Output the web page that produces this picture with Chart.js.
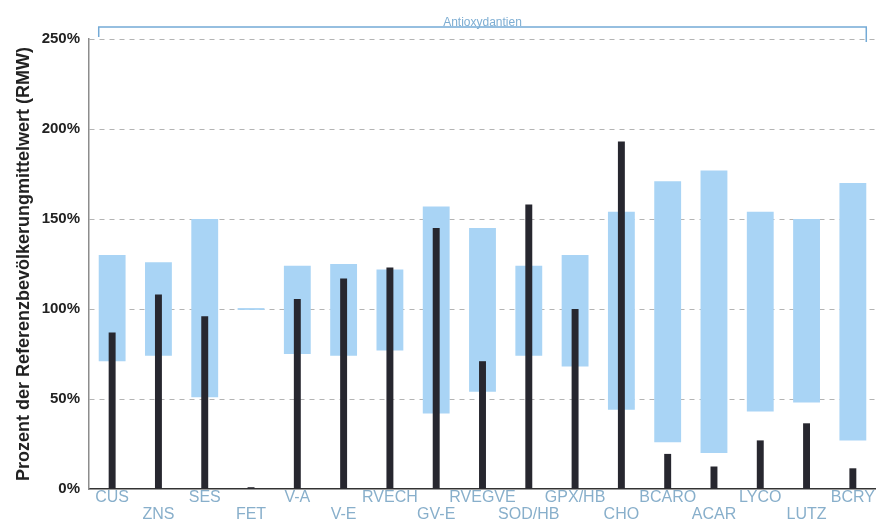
<!DOCTYPE html>
<html>
<head>
<meta charset="utf-8">
<script src="https://cdn.jsdelivr.net/npm/chart.js@4"></script>
<style>
  html, body { margin: 0; padding: 0; background: #fff; }
  #wrap { width: 876px; height: 527px; }
</style>
</head>
<body>
<div id="wrap"><canvas id="chart"></canvas></div>
<script>
// categories and values (percent of reference mean)
const categories = ['CUS', 'ZNS', 'SES', 'FET', 'V-A', 'V-E', 'RVECH', 'GV-E', 'RVEGVE', 'SOD/HB', 'GPX/HB', 'CHO', 'BCARO', 'ACAR', 'LYCO', 'LUTZ', 'BCRY'];
const refLow = [71, 74, 51, 99.5, 75, 74, 77, 42, 54, 74, 68, 44, 26, 20, 43, 48, 27];
const refHigh = [130, 126, 150, 100.5, 124, 125, 122, 157, 145, 124, 130, 154, 171, 177, 154, 150, 170];
const measured = [87, 108, 96, 1, 105.5, 117, 123, 145, 71, 158, 100, 193, 19.5, 12.5, 27, 36.5, 11.5];
const yTicks = [0, 50, 100, 150, 200, 250];
const groupLabel = 'Antioxydantien';
const yTitle = 'Prozent der Referenzbevölkerungmittelwert (RMW)';

// bracket over the whole group, drawn from the bar positions
const bracketPlugin = {
    id: 'bracket',
    afterDraw(chart) {
        const bars = chart.getDatasetMeta(0).data;
        if (!bars.length) return;
        const first = bars[0], last = bars[bars.length - 1];
        const x1 = first.x - first.width / 2;
        const x2 = last.x + last.width / 2;
        const y = chart.chartArea.top - 12;
        const ctx = chart.ctx;
        ctx.save();
        ctx.strokeStyle = '#74aad6';
        ctx.lineWidth = 1.5;
        ctx.beginPath();
        ctx.moveTo(x1, y + 10);
        ctx.lineTo(x1, y);
        ctx.lineTo(x2, y);
        ctx.lineTo(x2, y + 15);
        ctx.stroke();
        ctx.fillStyle = '#7eaed3';
        ctx.font = '12px "Liberation Sans", sans-serif';
        ctx.textAlign = 'center';
        ctx.textBaseline = 'alphabetic';
        ctx.fillText(groupLabel, (x1 + x2) / 2, y - 1);
        ctx.restore();
    }
};

new Chart(document.getElementById('chart'), {
    type: 'bar',
    data: {
        labels: categories,
        datasets: [
            { label: 'Referenzbereich', data: refLow.map((l, i) => [l, refHigh[i]]), backgroundColor: '#a9d4f5', grouped: false, barPercentage: 0.58, categoryPercentage: 1, order: 2 },
            { label: 'Messwert', data: measured, backgroundColor: '#27272f', grouped: false, barPercentage: 0.15, categoryPercentage: 1, order: 1 }
        ]
    },
    options: {
        responsive: true,
        maintainAspectRatio: false,
        animation: false,
        layout: { padding: { top: 39, right: 0, left: 0, bottom: 0 } },
        plugins: { legend: { display: false }, tooltip: { enabled: false } },
        scales: {
            x: {
                grid: { display: false, drawTicks: false },
                border: { color: '#333', width: 1.5 },
                afterFit: s => { s.height = 38; },
                ticks: {
                    autoSkip: false, maxRotation: 0, padding: 0,
                    color: '#88afcb',
                    font: { family: '"Liberation Sans", Arial, sans-serif', size: 16, lineHeight: 1.06 },
                    callback: (v, i) => i % 2 === 0 ? [categories[i], ''] : ['', categories[i]]
                }
            },
            y: {
                min: 0, max: 250,
                afterFit: s => { s.width = 89; },
                afterBuildTicks: s => { s.ticks = yTicks.map(v => ({ value: v })); },
                grid: { color: c => c.tick.value === 0 ? 'rgba(0,0,0,0)' : '#b4b4b4', lineWidth: 1, drawTicks: false },
                border: { color: '#8c8c8c', width: 1.5, dash: [5, 5] },
                ticks: {
                    padding: 9, color: '#222',
                    font: { family: '"Liberation Sans", Arial, sans-serif', size: 15, weight: 'bold' },
                    callback: v => v + '%'
                },
                title: {
                    display: true, text: yTitle, color: '#222',
                    font: { family: '"Liberation Sans", Arial, sans-serif', size: 18, weight: 'bold' },
                    padding: { top: 13, bottom: 0 }
                }
            }
        }
    },
    plugins: [bracketPlugin]
});
</script>
</body>
</html>
